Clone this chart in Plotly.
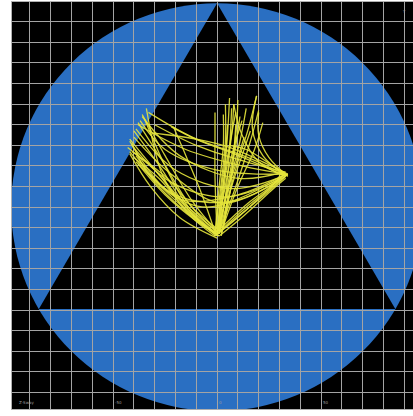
import plotly.graph_objects as go

# ---- data (units: 1 grid cell = 10) ----
circle_radius = 99
triangle_x = [0, -85.7, 85.7, 0]
triangle_y = [99, -49.5, -49.5, 99]

tick_vals = [-96, -50, 0, 50]
tick_text = ["Z-Sway", "-50", "0", "50"]

left_fan = [
    [(0, -13), (-14, -2), (-28, 14), (-40, 24)],
    [(1, -14), (-12, -4), (-27, 10), (-39, 22)],
    [(0, -12), (-16, 2), (-30, 18), (-43, 29)],
    [(-1, -13), (-15, 0), (-29, 17), (-42, 33)],
    [(0, -14), (-14, -1), (-27, 19), (-40, 37)],
    [(1, -13), (-13, 1), (-26, 22), (-38, 41)],
    [(0, -12), (-12, 3), (-25, 25), (-36, 45)],
    [(-1, -14), (-14, -3), (-26, 15), (-34, 48)],
    [(2, -12), (-10, -2), (-24, 14), (-41, 27)],
    [(0, -15), (-18, -5), (-32, 10), (-42, 26)],
    [(-1, -13), (-20, 2), (-33, 16), (-41, 31)],
    [(1, -14), (-11, -6), (-25, 6), (-38, 21)],
    [(0, -13), (-13, -1), (-24, 18), (-35, 43)],
]

cross_arcs = [
    [(-41, 30), (-22, 12), (5, 5), (33, 15)],
    [(-39, 38), (-20, 18), (8, 9), (34, 16)],
    [(-36, 44), (-18, 25), (10, 14), (32, 17)],
    [(-42, 27), (-20, 6), (8, 3), (31, 14)],
    [(-38, 40), (-15, 28), (12, 20), (33, 16)],
    [(-33, 46), (-12, 34), (15, 24), (34, 15)],
    [(-40, 34), (-22, 16), (2, 2), (30, 13)],
    [(-37, 42), (-25, 28), (0, 18), (32, 16)],
    [(-30, 40), (-10, 30), (14, 22), (33, 17)],
    [(-31, 36), (-10, 33), (6, 29), (22, 22), (34, 16)],
    [(-22, 39), (-8, 32), (8, 26), (33, 15)],
    [(-42, 32), (-24, 8), (-5, 0), (32, 15)],
    [(-39, 25), (-18, 4), (10, 6), (33, 16)],
]

vertical_lines = [
    [(0, -13), (3, 10), (5, 35), (6, 53)],
    [(1, -12), (4, 15), (7, 35), (8, 50)],
    [(0, -14), (5, 10), (9, 35), (10, 52)],
    [(2, -13), (8, 15), (15, 38), (19, 54)],
    [(1, -12), (9, 10), (16, 32), (20, 47)],
    [(0, -13), (6, 12), (11, 32), (14, 48)],
    [(-1, -14), (1, 10), (3, 30), (3, 45)],
    [(2, -12), (10, 10), (18, 28), (22, 41)],
    [(0, -13), (-1, 15), (-1, 35), (-1, 46)],
    [(1, -13), (7, 10), (13, 28), (16, 37)],
    [(-1, -12), (-8, 8), (-15, 25), (-21, 39)],
    [(0, -13), (2, 8), (4, 25), (5, 40)],
    [(3, -11), (6, 12), (9, 30), (11, 44)],
    [(0, -14), (3, 5), (7, 25), (12, 42)],
    [(1, -13), (4, 5), (6, 28), (7, 48)],
    [(0, -12), (3, 12), (6, 30), (9, 46)],
    [(2, -14), (6, 6), (8, 26), (9, 40)],
    [(-1, -13), (2, 12), (4, 32), (4, 50)],
    [(1, -12), (5, 8), (10, 24), (13, 34)],
]

right_arm = [
    [(0, -13), (12, -3), (24, 7), (33, 15)],
    [(1, -12), (14, 0), (25, 9), (32, 16)],
    [(-1, -14), (10, -5), (22, 6), (34, 16)],
    [(0, -12), (15, 2), (28, 12), (31, 17)],
    [(1, -14), (13, -4), (26, 8), (33, 14)],
    [(33, 15), (20, 22), (12, 35), (8, 50)],
    [(32, 16), (22, 25), (17, 38), (19, 54)],
    [(34, 15), (25, 24), (20, 35), (20, 46)],
    [(33, 16), (24, 22), (14, 28), (6, 30)],
]

# ---- figure ----
fig = go.Figure()

for group in (left_fan, cross_arcs, vertical_lines, right_arm):
    for path in group:
        fig.add_trace(go.Scatter(
            x=[p[0] for p in path], y=[p[1] for p in path],
            mode="lines", line=dict(color="#e6e63c", width=1.3, shape="spline"),
            opacity=0.9, hoverinfo="skip", showlegend=False))

fig.add_shape(type="circle", xref="x", yref="y",
              x0=-circle_radius, x1=circle_radius, y0=-circle_radius, y1=circle_radius,
              fillcolor="#2a6fc2", line=dict(width=0), layer="below")
tri_path = "M " + " L ".join(f"{x},{y}" for x, y in zip(triangle_x, triangle_y)) + " Z"
fig.add_shape(type="path", path=tri_path, xref="x", yref="y",
              fillcolor="#000000", line=dict(width=0), layer="below")

for v, t in zip(tick_vals, tick_text):
    fig.add_annotation(x=v, y=-97, text=t, showarrow=False, xanchor="left", yanchor="bottom",
                       font=dict(size=4, color="#9a9a9a", family="DejaVu Sans"))
fig.add_annotation(x=88, y=97, text="Y", showarrow=False, xanchor="left", yanchor="top",
                   font=dict(size=4, color="#9a9a9a", family="DejaVu Sans"))

axis_common = dict(showgrid=True, gridcolor="#a4a4a4", gridwidth=1, dtick=10, tick0=0,
                   showticklabels=False, zeroline=False, ticks="",
                   showline=True, linecolor="#b0b0b0", linewidth=1, mirror=True, fixedrange=True)
fig.update_xaxes(range=[-98.6, 94.2], **axis_common)
fig.update_yaxes(range=[-98, 99.6], **axis_common)

fig.update_layout(width=413, height=416, margin=dict(l=12, r=0, t=2, b=7),
                  paper_bgcolor="#ffffff", plot_bgcolor="#000000", showlegend=False)

fig.write_html("out.html", config={"displayModeBar": False},
               post_script="document.body.style.margin='0';document.body.style.overflow='hidden';")
